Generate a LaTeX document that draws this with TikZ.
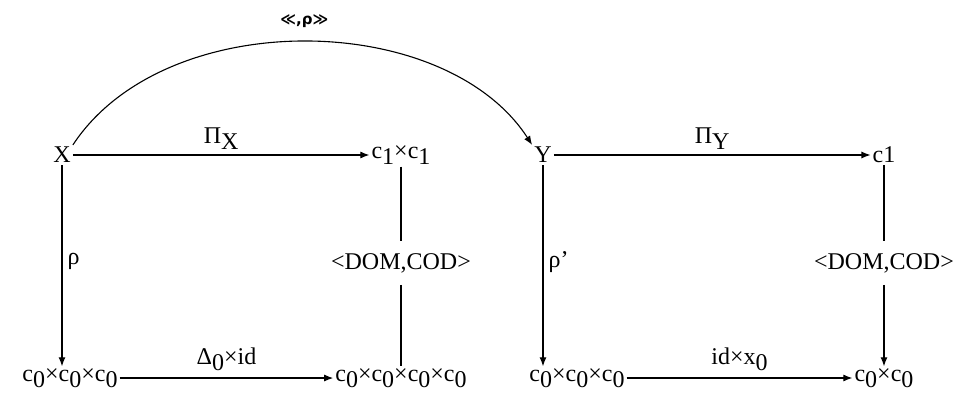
\documentclass[tikz,border=0pt]{standalone}
\usepackage{fontspec}
\setmainfont{Liberation Serif}
\newfontfamily\symfont{DejaVu Sans}
\usetikzlibrary{arrows.meta}
\newcommand{\lowsub}[1]{\raisebox{-6pt}{#1}}
\begin{document}
\begin{tikzpicture}[x=1pt,y=-1pt,
  obj/.style={inner sep=2pt,font=\fontsize{24}{28}\selectfont},
  lbl/.style={inner sep=1pt,font=\fontsize{24}{28}\selectfont},
  arr/.style={line width=1.1pt,-{Latex[length=9pt,width=7pt]}},
  ln/.style={line width=1.1pt}]
\useasboundingbox (0,0) rectangle (975,399);
% objects
\node[obj] (X)   at (62,155)  {X};
\node[obj] (C11) at (401,155) {c\lowsub{1}×c\lowsub{1}};
\node[obj] (Y)   at (543,155) {Y};
\node[obj] (C1)  at (884,155) {c1};
\node[obj] (B1)  at (70,378)  {c\lowsub{0}×c\lowsub{0}×c\lowsub{0}};
\node[obj] (B2)  at (401,378) {c\lowsub{0}×c\lowsub{0}×c\lowsub{0}×c\lowsub{0}};
\node[obj] (B3)  at (577,378) {c\lowsub{0}×c\lowsub{0}×c\lowsub{0}};
\node[obj] (B4)  at (884,378) {c\lowsub{0}×c\lowsub{0}};
% mid labels on broken lines
\node[lbl,inner xsep=4pt,inner ysep=12pt] (D1) at (401,263) {<DOM,COD>};
\node[lbl,inner xsep=4pt,inner ysep=12pt] (D2) at (884,263) {<DOM,COD>};
% arrows
\draw[arr] (X) -- node[lbl,above=4pt] {Π\lowsub{X}} (C11);
\draw[arr] (Y) -- node[lbl,above=4pt] {Π\lowsub{Y}} (C1);
\draw[arr] (X) -- node[lbl,right=4pt,pos=0.48] {ρ} (B1.north -| X);
\draw[arr] (Y) -- node[lbl,right=4pt,pos=0.48] {ρ'} (B3.north -| Y);
\draw[arr] (B1) -- node[lbl,above=6pt] {Δ\lowsub{0}×id} (B2);
\draw[arr] (B3) -- node[lbl,above=6pt] {id×x\lowsub{0}} (B4);
\draw[ln] (C11) -- (D1);
\draw[ln] (D1) -- (B2);
\draw[ln] (C1) -- (D2);
\draw[arr] (D2) -- (B4);
% arc
\draw[arr] (X.north east) .. controls (165,5) and (445,10) .. (Y.north west)
  node[pos=0.5,above=13pt,inner sep=1pt,font=\symfont\bfseries\fontsize{15}{16}\selectfont] (F) {≪,ρ≫};
\end{tikzpicture}
\end{document}
